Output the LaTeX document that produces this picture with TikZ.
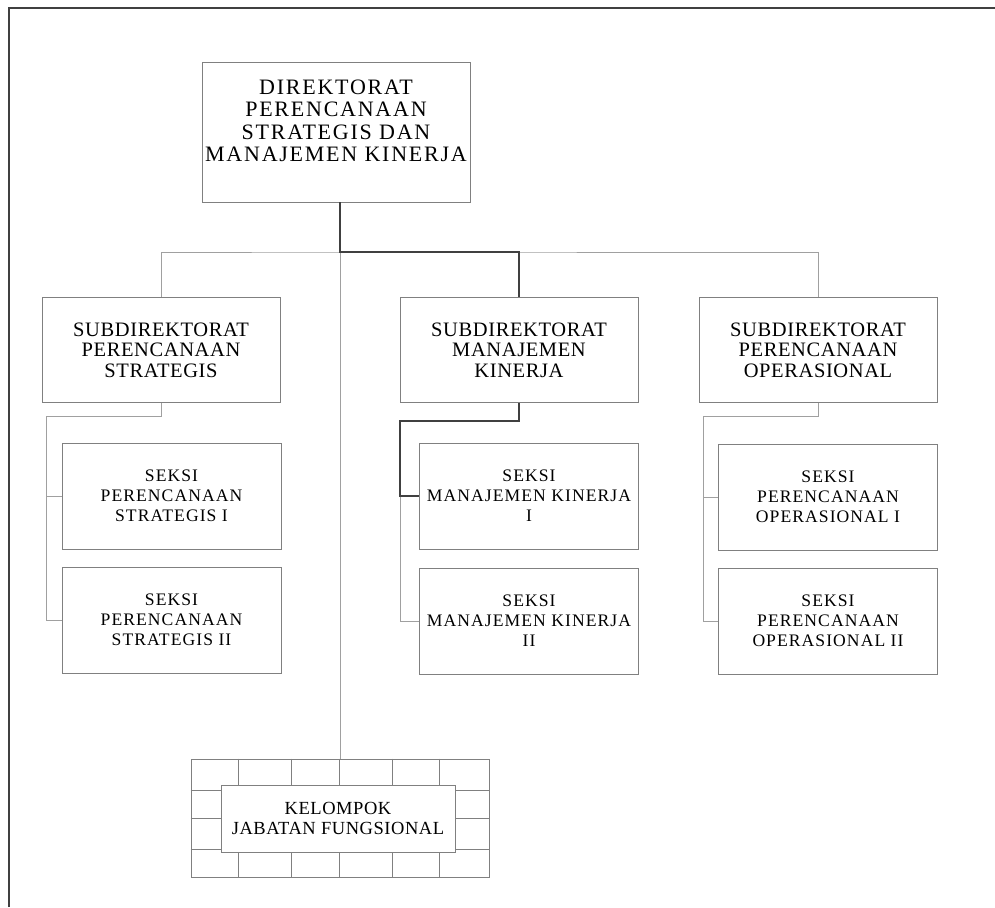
\documentclass[tikz,border=0pt]{standalone}
\usepackage{fontspec}
\setmainfont{Liberation Serif}
\newfontfamily\fontdir[LetterSpace=8]{Liberation Serif}
\newfontfamily\fontsubd[LetterSpace=3]{Liberation Serif}
\newfontfamily\fontseksi[LetterSpace=6]{Liberation Serif}
\newfontfamily\fontkel[LetterSpace=3]{Liberation Serif}
\definecolor{boxgray}{HTML}{808080}
\definecolor{linkgray}{HTML}{A0A0A0}
\definecolor{darkline}{HTML}{404040}

\begin{document}
\begin{tikzpicture}[x={(1pt,0)},y={(0,-1pt)},
    box/.style={draw=boxgray,line width=0.8pt,fill=white,align=center,inner sep=0pt},
    subbox/.style={box,minimum width=238,minimum height=105,font=\fontsubd\fontsize{20.5}{20.5}\selectfont},
    seksibox/.style={box,minimum width=219,minimum height=106,font=\fontseksi\fontsize{17.6}{20}\selectfont},
    link/.style={linkgray,line width=0.9pt},
    main/.style={darkline,line width=1.8pt}]
        \useasboundingbox (0,0) rectangle (995,907);
        % Frame
        \draw[darkline,line width=1.4pt] (9,907) -- (9,8) -- (995,8);
        % Direktorat
        \node[box,minimum width=268,minimum height=140,font=\fontdir\fontsize{22}{22.5}\selectfont] (dir) at (336,132)
          {DIREKTORAT\\PERENCANAAN\\STRATEGIS DAN\\MANAJEMEN KINERJA\\~};
        % Subdirektorat
        \node[subbox] (subL) at (161,350) {SUBDIREKTORAT\\PERENCANAAN\\STRATEGIS};
        \node[subbox] (subM) at (519,350) {SUBDIREKTORAT\\MANAJEMEN\\KINERJA};
        \node[subbox] (subR) at (818,350) {SUBDIREKTORAT\\PERENCANAAN\\OPERASIONAL};
        % Seksi
        \node[seksibox] (sL1) at (171.5,496) {SEKSI\\PERENCANAAN\\STRATEGIS I};
        \node[seksibox] (sL2) at (171.5,620) {SEKSI\\PERENCANAAN\\STRATEGIS II};
        \node[seksibox] (sM1) at (529,496) {SEKSI\\MANAJEMEN KINERJA\\I};
        \node[seksibox] (sM2) at (529,621) {SEKSI\\MANAJEMEN KINERJA\\II};
        \node[seksibox] (sR1) at (828,497) {SEKSI\\PERENCANAAN\\OPERASIONAL I};
        \node[seksibox] (sR2) at (828,621) {SEKSI\\PERENCANAAN\\OPERASIONAL II};
        % Kelompok jabatan fungsional
        \node[draw=boxgray,line width=0.8pt,minimum width=298,minimum height=118,inner sep=0pt] (grid) at (340,818) {};
        \foreach \y in {790,818,849} {
          \draw[boxgray,line width=0.8pt] (grid.west |- 0,\y) -- (grid.east |- 0,\y);
        }
        \foreach \x in {238,291,339,392,439} {
          \draw[boxgray,line width=0.8pt] (grid.north -| \x,0) -- (grid.south -| \x,0);
        }
        \node[box,minimum width=234,minimum height=67,font=\fontkel\fontsize{18.5}{20}\selectfont] (kel) at (338,818.5)
          {KELOMPOK\\JABATAN FUNGSIONAL};
        % Connectors
        \coordinate (hub) at (340,252);
        \coordinate (lbus) at (46,416);
        \coordinate (mbus) at (400,421);
        \coordinate (rbus) at (703,416);
        \draw[link] (subL.north) |- (hub) -| (subR.north);
        \draw[link] (hub) -- (grid.north -| hub);
        \draw[link] (subL.south) |- (lbus) |- (sL2.west);
        \draw[link] (sL1.west -| lbus) -- (sL1.west);
        \draw[link] (sM1.west -| mbus) |- (sM2.west);
        \draw[link] (subR.south) |- (rbus) |- (sR2.west);
        \draw[link] (sR1.west -| rbus) -- (sR1.west);
        \draw[main] (dir.south -| hub) -- (hub) -| (subM.north);
        \draw[main] (subM.south) |- (mbus) |- (sM1.west);
    \end{tikzpicture}
\end{document}
